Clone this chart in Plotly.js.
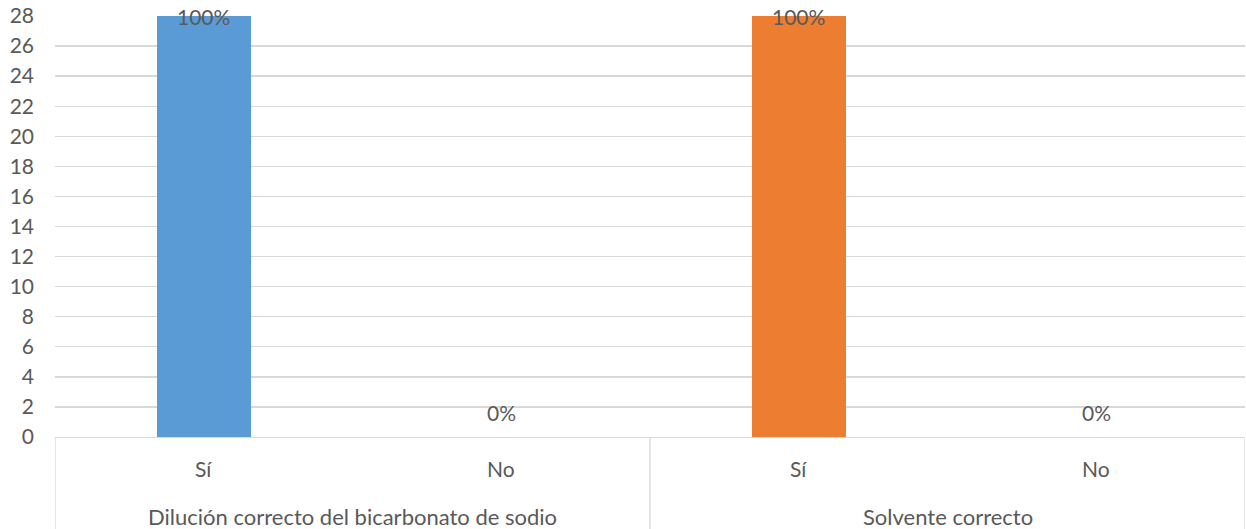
<!DOCTYPE html>
<html>
<head>
<meta charset="utf-8">
<script src="https://cdn.plot.ly/plotly-3.0.1.min.js"></script>
<style>
  html, body { margin: 0; padding: 0; background: #fff; }
  #chart { width: 1246px; height: 529px; }
</style>
</head>
<body>
<div id="chart"></div>
<script>
// Survey answers per question group
const groups = ['Dilución correcto del bicarbonato de sodio', 'Solvente correcto'];
const answers = ['Sí', 'No'];
const dilucionCounts = [28, 0];
const solventeCounts = [28, 0];
const yTicks = [0, 2, 4, 6, 8, 10, 12, 14, 16, 18, 20, 22, 24, 26, 28];

const seriesCounts = [dilucionCounts, solventeCounts];
const seriesColors = ['#5b9bd5', '#ed7d31'];
const textColor = '#595959';
const lineColor = '#d9d9d9';
const font = 'Lato, "Open Sans", sans-serif';
const yMax = 28;

// Position of each answer on a numeric axis: one slot per answer, groups side by side
const slot = (g, a) => g * answers.length + a;

const traces = seriesCounts.map((counts, g) => ({
  type: 'bar',
  x: answers.map((_, a) => slot(g, a)),
  y: counts,
  width: 0.316,
  marker: { color: seriesColors[g] },
  hoverinfo: 'skip',
  showlegend: false
}));

const annotations = [];
const shapes = [];

// Percentage labels sitting just above each bar end, kept inside the plot
seriesCounts.forEach((counts, g) => {
  const total = counts.reduce((s, v) => s + v, 0);
  counts.forEach((v, a) => {
    annotations.push({
      x: slot(g, a), y: Math.min(v + 1.66, yMax), xref: 'x', yref: 'y',
      text: Math.round(v / total * 100) + '%',
      showarrow: false, yanchor: 'middle',
      font: { family: font, size: 21, color: textColor }
    });
  });
});

// Two-level category labels under the axis
groups.forEach((gName, g) => {
  answers.forEach((aName, a) => {
    annotations.push({
      x: slot(g, a), y: 0, xref: 'x', yref: 'paper',
      text: aName, showarrow: false, yanchor: 'middle', yshift: -31,
      font: { family: font, size: 21, color: textColor }
    });
  });
  annotations.push({
    x: slot(g, 0) + (answers.length - 1) / 2, y: 0, xref: 'x', yref: 'paper',
    text: gName, showarrow: false, yanchor: 'middle', yshift: -79,
    font: { family: font, size: 22, color: textColor }
  });
});

// Group dividers below the axis
for (let g = 0; g <= groups.length; g++) {
  const xPos = g * answers.length - 0.5;
  shapes.push({
    type: 'line', xref: 'x', yref: 'paper',
    x0: xPos, x1: xPos, y0: 0, y1: -0.3,
    line: { color: lineColor, width: 1.3 }
  });
}

const layout = {
  width: 1246, height: 529,
  margin: { l: 55, r: 1, t: 16, b: 92 },
  paper_bgcolor: '#fff', plot_bgcolor: '#fff',
  font: { family: font, size: 21, color: textColor },
  bargap: 0,
  xaxis: {
    range: [-0.5, groups.length * answers.length - 0.5],
    showticklabels: false, ticks: '', showgrid: false, zeroline: false,
    showline: true, linecolor: lineColor, linewidth: 1.3
  },
  yaxis: {
    range: [0, yMax], tickvals: yTicks, ticktext: yTicks.map(String),
    showgrid: true, gridcolor: lineColor, gridwidth: 1.3,
    zeroline: false, showline: false, ticks: '',
    ticklabelstandoff: 20,
    tickfont: { family: font, size: 21, color: textColor }
  },
  annotations: annotations,
  shapes: shapes
};

Plotly.newPlot('chart', traces, layout, { staticPlot: true, displayModeBar: false });
</script>
</body>
</html>
